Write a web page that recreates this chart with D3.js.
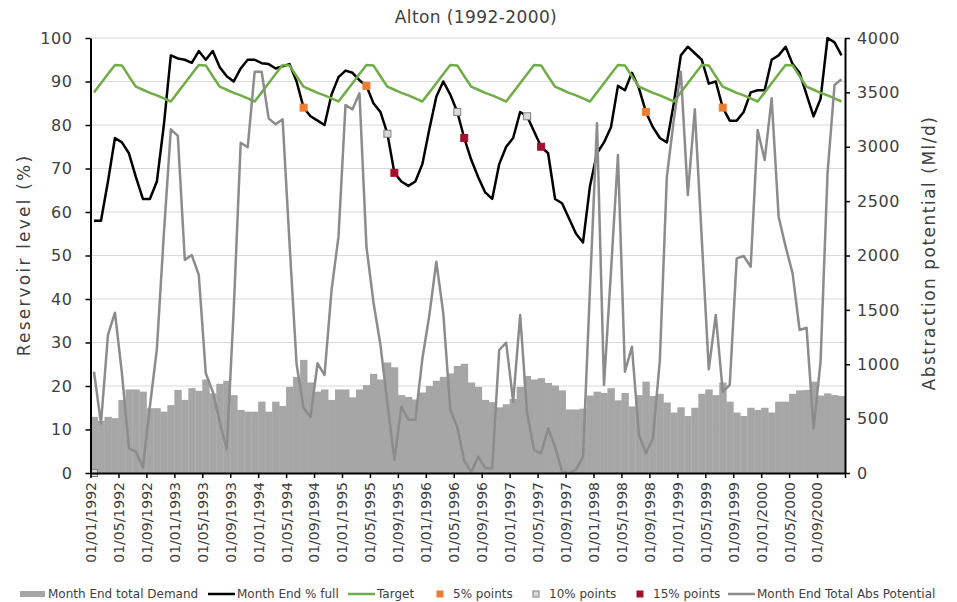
<!DOCTYPE html>
<html>
<head>
<meta charset="utf-8">
<script src="https://cdn.jsdelivr.net/npm/d3@7/dist/d3.min.js"></script>
<style>
  body { margin: 0; background: #fff; }
  svg text { font-family: 'DejaVu Sans', sans-serif; fill: #404040; }
</style>
</head>
<body>
<svg id="chart"></svg>
<script>
// x tick labels, one every 4 months from Jan 1992
const tickLabels = [
  '01/01/1992', '01/05/1992', '01/09/1992', '01/01/1993', '01/05/1993', '01/09/1993',
  '01/01/1994', '01/05/1994', '01/09/1994', '01/01/1995', '01/05/1995', '01/09/1995',
  '01/01/1996', '01/05/1996', '01/09/1996', '01/01/1997', '01/05/1997', '01/09/1997',
  '01/01/1998', '01/05/1998', '01/09/1998', '01/01/1999', '01/05/1999', '01/09/1999',
  '01/01/2000', '01/05/2000', '01/09/2000'
];

// Month End total Demand (Ml/d), Jan 1992 - Dec 2000
const demand = [
  516, 480, 516, 504, 672, 768, 768, 748, 596, 596, 564, 624,
  764, 672, 780, 756, 860, 732, 820, 848, 716, 580, 564, 564,
  656, 564, 656, 616, 792, 884, 1040, 832, 748, 768, 672, 768,
  768, 696, 768, 808, 912, 860, 1016, 972, 716, 700, 676, 740,
  800, 848, 884, 916, 984, 1004, 832, 792, 672, 652, 604, 632,
  680, 792, 892, 860, 872, 828, 804, 760, 584, 584, 592, 712,
  748, 736, 780, 668, 736, 612, 716, 840, 708, 728, 648, 556,
  604, 524, 600, 728, 768, 716, 832, 656, 556, 524, 600, 580,
  600, 556, 656, 656, 728, 760, 764, 840, 712, 732, 716, 708
];

// Month End % full
const pctFull = [
  58, 58, 67, 77, 76, 73.5, 68, 63, 63, 67, 80, 96,
  95.3, 95, 94.3, 97, 95, 97, 93.3, 91.2, 90, 93, 95, 95,
  94.2, 94, 93, 93.5, 94, 90, 84, 82, 81, 80, 87, 91,
  92.5, 92, 90.3, 89, 85, 83, 78, 69, 67, 66, 67, 71,
  79, 86.5, 90, 87, 83, 77, 72, 68, 64.5, 63, 71, 75,
  77, 83, 82, 78.5, 75, 73.5, 63, 62, 58.5, 55, 53, 66,
  73.5, 76, 79.5, 89, 88, 92, 88.5, 83, 79.5, 77, 76, 85,
  96, 98, 96.5, 95, 89.5, 90, 84, 81, 81, 83, 87.5, 88,
  88, 95, 96, 98, 94, 92, 87, 82, 86, 100, 99, 96
];

// Target (%)
const target = [
  87.5, 89.6, 91.7, 93.8, 93.7, 91.2, 88.8, 88.1, 87.4, 86.8, 86.1, 85.4,
  87.5, 89.6, 91.7, 93.8, 93.7, 91.2, 88.8, 88.1, 87.4, 86.8, 86.1, 85.4,
  87.5, 89.6, 91.7, 93.8, 93.7, 91.2, 88.8, 88.1, 87.4, 86.8, 86.1, 85.4,
  87.5, 89.6, 91.7, 93.8, 93.7, 91.2, 88.8, 88.1, 87.4, 86.8, 86.1, 85.4,
  87.5, 89.6, 91.7, 93.8, 93.7, 91.2, 88.8, 88.1, 87.4, 86.8, 86.1, 85.4,
  87.5, 89.6, 91.7, 93.8, 93.7, 91.2, 88.8, 88.1, 87.4, 86.8, 86.1, 85.4,
  87.5, 89.6, 91.7, 93.8, 93.7, 91.2, 88.8, 88.1, 87.4, 86.8, 86.1, 85.4,
  87.5, 89.6, 91.7, 93.8, 93.7, 91.2, 88.8, 88.1, 87.4, 86.8, 86.1, 85.4,
  87.5, 89.6, 91.7, 93.8, 93.7, 91.2, 88.8, 88.1, 87.4, 86.8, 86.1, 85.4
];

// Month End Total Abs Potential (Ml/d)
const absPotential = [
  931, 457, 1269, 1474, 917, 227, 196, 50, 610, 1140, 2200, 3160,
  3100, 1960, 2004, 1821, 917, 748, 472, 218, 1500, 3037, 2995, 3690,
  3690, 3261, 3206, 3252, 2100, 1000, 595, 518, 1009, 901, 1680, 2173,
  3384, 3344, 3491, 2081, 1570, 1180, 641, 120, 610, 490, 490, 1050,
  1450, 1943, 1468, 579, 426, 110, 10, 150, 43, 43, 1131, 1198,
  656, 1453, 549, 211, 181, 411, 242, 12, 0, 30, 150, 1700,
  3215, 809, 1850, 2924, 931, 1161, 349, 181, 319, 1039, 2725, 3250,
  3690, 2556, 3344, 2150, 953, 1453, 748, 809, 1974, 1995, 1897, 3154,
  2878, 3445, 2357, 2081, 1836, 1315, 1336, 411, 1023, 2756, 3568, 3620
];

// trigger points: month index and level
const points5 = [{ m: 30, v: 84 }, { m: 39, v: 89 }, { m: 79, v: 83 }, { m: 90, v: 84 }];
const points10 = [{ m: 0, v: 0 }, { m: 42, v: 78 }, { m: 52, v: 83 }, { m: 62, v: 82 }];
const points15 = [{ m: 43, v: 69 }, { m: 53, v: 77 }, { m: 64, v: 75 }];

const legendItems = [
  { label: 'Month End total Demand', type: 'bar', color: '#a6a6a6', x: 20 },
  { label: 'Month End % full', type: 'line', color: '#000000', x: 208 },
  { label: 'Target', type: 'line', color: '#70ad47', x: 348 },
  { label: '5% points', type: 'square', color: '#ed7d31', stroke: '#ed7d31', x: 437 },
  { label: '10% points', type: 'square', color: '#d9d9d9', stroke: '#7f7f7f', x: 533 },
  { label: '15% points', type: 'square', color: '#a50f2d', stroke: '#a50f2d', x: 637 },
  { label: 'Month End Total Abs Potential', type: 'line', color: '#8c8c8c', x: 728 }
];

class ReservoirChart {

  constructor(_config) {
    this.config = {
      parentElement: _config.parentElement,
      containerWidth: 957,
      containerHeight: 602,
      left: 90.5, right: 845, top: 38, bottom: 473
    };
    this.initVis();
  }

  initVis() {
    let vis = this;
    const c = vis.config;

    vis.svg = d3.select(c.parentElement)
      .attr('width', c.containerWidth)
      .attr('height', c.containerHeight);

    vis.xScale = d3.scaleLinear().domain([0, demand.length]).range([c.left, c.right]);
    vis.yLeft = d3.scaleLinear().domain([0, 100]).range([c.bottom, c.top]);
    vis.yRight = d3.scaleLinear().domain([0, 4000]).range([c.bottom, c.top]);

    // title
    vis.svg.append('text')
      .attr('x', 476).attr('y', 23)
      .attr('text-anchor', 'middle')
      .style('font-size', '17px')
      .style('letter-spacing', '0.4px')
      .text('Alton (1992-2000)');

    // gridlines
    vis.svg.append('g').selectAll('line')
      .data(d3.range(10, 101, 10))
      .join('line')
      .attr('x1', c.left).attr('x2', c.right)
      .attr('y1', d => vis.yLeft(d)).attr('y2', d => vis.yLeft(d))
      .attr('stroke', '#d9d9d9').attr('stroke-width', 1);

    vis.renderVis();
  }

  renderVis() {
    let vis = this;
    const c = vis.config;
    const x = vis.xScale;

    // demand bars
    vis.svg.append('g').selectAll('rect')
      .data(demand)
      .join('rect')
      .attr('x', (d, i) => x(i))
      .attr('width', (d, i) => x(i + 1) - x(i) + 0.4)
      .attr('y', d => vis.yRight(d))
      .attr('height', d => vis.yRight(0) - vis.yRight(d))
      .attr('fill', '#a6a6a6');

    const lineLeft = d3.line().x((d, i) => x(i + 0.5)).y(d => vis.yLeft(d));
    const lineRight = d3.line().x((d, i) => x(i + 0.5)).y(d => vis.yRight(d));

    vis.svg.append('path')
      .datum(pctFull)
      .attr('d', lineLeft)
      .attr('fill', 'none').attr('stroke', '#000').attr('stroke-width', 2.5)
      .attr('stroke-linejoin', 'round');

    vis.svg.append('path')
      .datum(target)
      .attr('d', lineLeft)
      .attr('fill', 'none').attr('stroke', '#70ad47').attr('stroke-width', 2.5)
      .attr('stroke-linejoin', 'round');

    const drawPoints = (data, fill, stroke) => {
      vis.svg.append('g').selectAll('rect')
        .data(data)
        .join('rect')
        .attr('x', d => x(d.m + 0.5) - 3.5)
        .attr('y', d => vis.yLeft(d.v) - 3.5)
        .attr('width', 7).attr('height', 7)
        .attr('fill', fill).attr('stroke', stroke).attr('stroke-width', 1);
    };
    drawPoints(points5, '#ed7d31', '#ed7d31');
    drawPoints(points10, '#d9d9d9', '#7f7f7f');
    drawPoints(points15, '#a50f2d', '#a50f2d');

    vis.svg.append('path')
      .datum(absPotential)
      .attr('d', lineRight)
      .attr('fill', 'none').attr('stroke', '#8c8c8c').attr('stroke-width', 2.5)
      .attr('stroke-linejoin', 'round');

    // axes
    const leftAxis = d3.axisLeft(vis.yLeft).tickValues(d3.range(0, 101, 10))
      .tickSize(5).tickSizeOuter(0).tickPadding(13);
    const rightAxis = d3.axisRight(vis.yRight).tickValues(d3.range(0, 4001, 500))
      .tickSize(5).tickSizeOuter(0).tickPadding(7)
      .tickFormat(d3.format('d'));
    const bottomAxis = d3.axisBottom(x).tickValues(d3.range(0, 109, 4))
      .tickSize(5).tickSizeOuter(0)
      .tickFormat((d, i) => tickLabels[i] || '');

    const styleAxis = g => {
      g.select('.domain').attr('stroke', '#000').attr('stroke-width', 2);
      g.selectAll('.tick line').attr('stroke', '#000').attr('stroke-width', 1.5);
      g.selectAll('text').attr('fill', '#404040')
        .style('font-size', '16px').style('letter-spacing', '0.6px');
    };

    vis.svg.append('g')
      .attr('transform', `translate(${c.left},0)`)
      .call(leftAxis).call(styleAxis);

    vis.svg.append('g')
      .attr('transform', `translate(${c.right},0)`)
      .call(rightAxis).call(styleAxis);

    vis.svg.append('g')
      .attr('transform', `translate(0,${c.bottom})`)
      .call(bottomAxis).call(styleAxis)
      .selectAll('text')
      .style('font-size', '14px').style('letter-spacing', '0px')
      .attr('text-anchor', 'end')
      .attr('transform', 'rotate(-90)')
      .attr('x', -9).attr('y', 0).attr('dy', '0.35em');

    // axis titles
    vis.svg.append('text')
      .attr('transform', 'translate(30,255) rotate(-90)')
      .attr('text-anchor', 'middle')
      .style('font-size', '17px')
      .style('letter-spacing', '2.2px')
      .text('Reservoir level (%)');

    vis.svg.append('text')
      .attr('transform', 'translate(935,253) rotate(-90)')
      .attr('text-anchor', 'middle')
      .style('font-size', '17px')
      .style('letter-spacing', '1.5px')
      .text('Abstraction potential (Ml/d)');

    // legend
    const ly = 594;
    const legend = vis.svg.append('g').selectAll('g')
      .data(legendItems)
      .join('g')
      .attr('transform', d => `translate(${d.x},${ly})`);

    legend.filter(d => d.type === 'bar').append('rect')
      .attr('x', 0).attr('y', -3).attr('width', 25).attr('height', 6)
      .attr('fill', d => d.color);
    legend.filter(d => d.type === 'line').append('line')
      .attr('x1', 0).attr('x2', 27).attr('y1', 0).attr('y2', 0)
      .attr('stroke', d => d.color).attr('stroke-width', 2.5);
    legend.filter(d => d.type === 'square').append('rect')
      .attr('x', 0).attr('y', -3).attr('width', 6).attr('height', 6)
      .attr('fill', d => d.color).attr('stroke', d => d.stroke);

    legend.append('text')
      .attr('x', d => d.type === 'square' ? 16 : (d.type === 'bar' ? 28 : 29))
      .attr('y', 0).attr('dy', '0.35em')
      .style('font-size', '12px')
      .text(d => d.label);
  }
}

new ReservoirChart({ parentElement: '#chart' });
</script>
</body>
</html>
